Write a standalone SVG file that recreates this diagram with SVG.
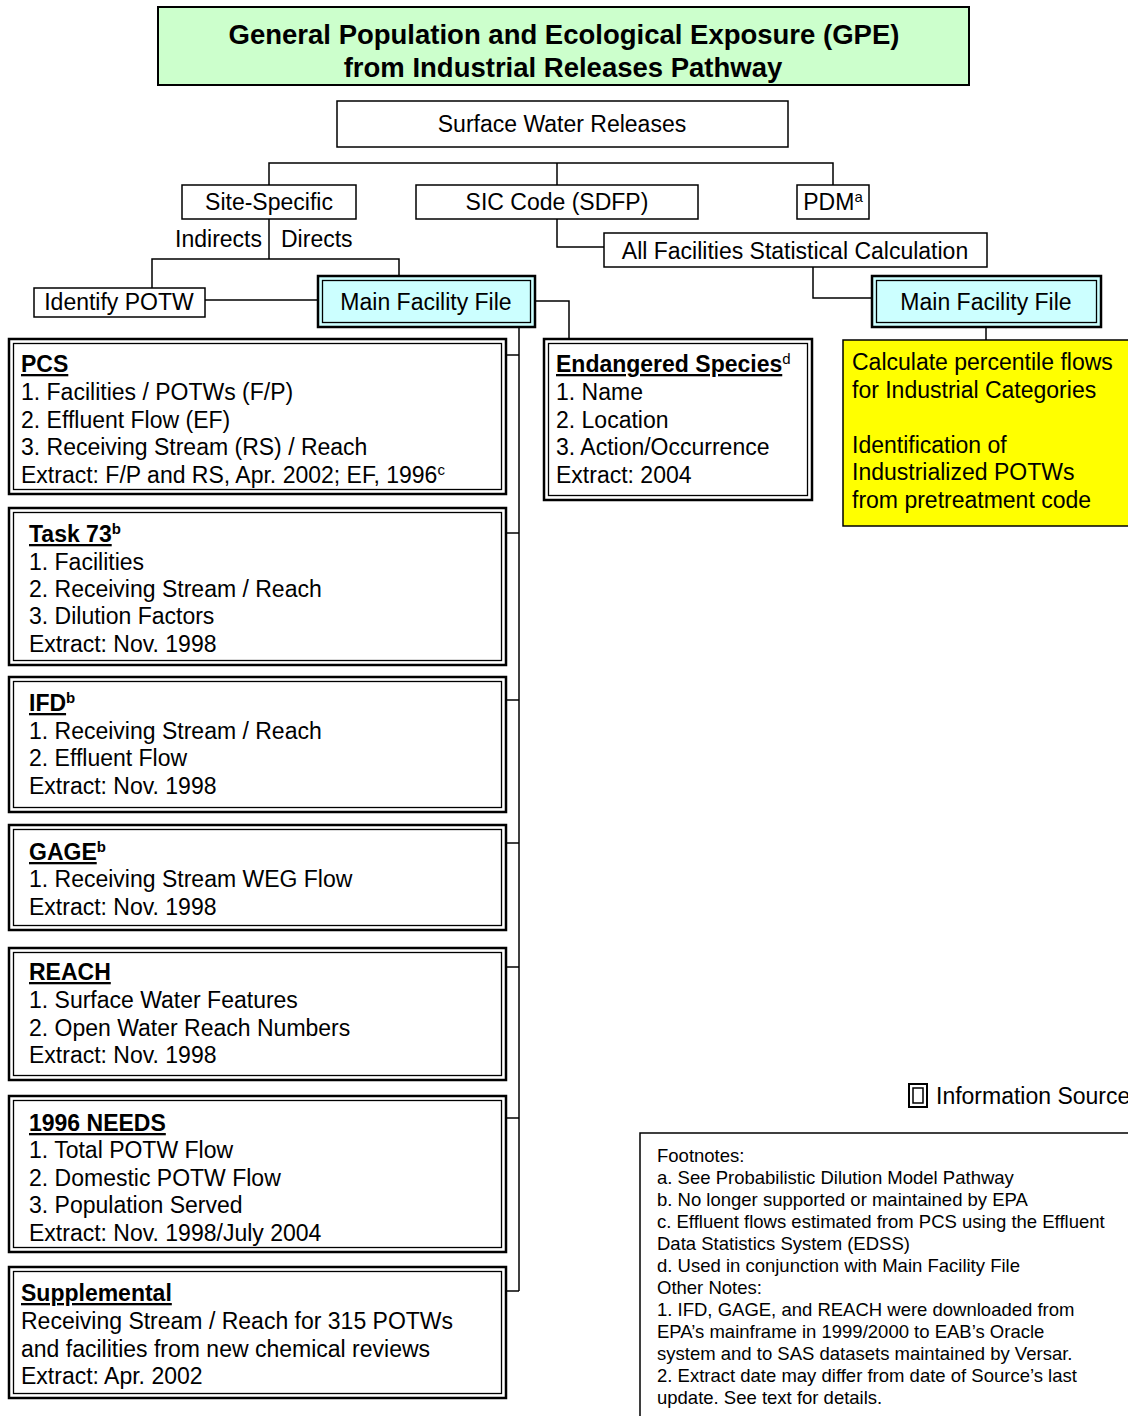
<svg xmlns="http://www.w3.org/2000/svg" width="1128" height="1416" viewBox="0 0 1128 1416">
<style>
text{font-family:"Liberation Sans",Arial,sans-serif;font-size:23px;fill:#000}
.b{font-weight:bold}
.u{text-decoration:underline}
.fn{font-size:18.5px}
.ttl{font-size:27.5px;font-weight:bold}
.c{text-anchor:middle}
.box{fill:#fff;stroke:#000;stroke-width:1.5}
.dbo{fill:#fff;stroke:#000;stroke-width:2.5}
.dbi{fill:none;stroke:#000;stroke-width:1.3}
.cyo{fill:#ccffff;stroke:#000;stroke-width:2.5}
.con{stroke:#000;stroke-width:1.5;fill:none}
.sup{font-size:15px}
</style>
<g id="title">
<rect x="158" y="7" width="811" height="78" fill="#ccffcc" stroke="#000" stroke-width="2"/>
<text class="ttl c" x="564" y="44">General Population and Ecological Exposure (GPE)</text>
<text class="ttl c" x="563" y="77">from Industrial Releases Pathway</text>
</g>
<g id="connectors">
<polyline class="con" points="269,185 269,163 833,163 833,185"/>
<line class="con" x1="557" y1="163" x2="557" y2="185"/>
<line class="con" x1="269" y1="219" x2="269" y2="259"/>
<polyline class="con" points="152,288 152,259 399,259 399,276"/>
<line class="con" x1="205" y1="300" x2="318" y2="300"/>
<polyline class="con" points="535,301 569,301 569,340"/>
<line class="con" x1="519" y1="327" x2="519" y2="1291"/>
<line class="con" x1="506" y1="355" x2="519" y2="355"/>
<line class="con" x1="506" y1="533" x2="519" y2="533"/>
<line class="con" x1="506" y1="700" x2="519" y2="700"/>
<line class="con" x1="506" y1="843" x2="519" y2="843"/>
<line class="con" x1="506" y1="967" x2="519" y2="967"/>
<line class="con" x1="506" y1="1118" x2="519" y2="1118"/>
<line class="con" x1="506" y1="1291" x2="519" y2="1291"/>
<polyline class="con" points="557,219 557,247 604,247"/>
<polyline class="con" points="813,267 813,298 872,298"/>
<line class="con" x1="986" y1="327" x2="986" y2="340"/>
</g>
<g id="surface">
<rect class="box" x="337" y="101" width="451" height="46"/>
<text class="c" x="562" y="132">Surface Water Releases</text>
</g>
<g id="site">
<rect class="box" x="182" y="185" width="174" height="34"/>
<text class="c" x="269" y="210">Site-Specific</text>
</g>
<g id="sic">
<rect class="box" x="416" y="185" width="282" height="34"/>
<text class="c" x="557" y="210">SIC Code (SDFP)</text>
</g>
<g id="pdm">
<rect class="box" x="797" y="185" width="72" height="34"/>
<text class="c" x="833" y="210">PDM<tspan class="sup" dy="-8">a</tspan></text>
</g>
<g id="labels">
<text x="262" y="247" text-anchor="end">Indirects</text>
<text x="281" y="247">Directs</text>
</g>
<g id="allfac">
<rect class="box" x="604" y="233" width="383" height="34"/>
<text class="c" x="795" y="259">All Facilities Statistical Calculation</text>
</g>
<g id="potw">
<rect class="box" x="34" y="288" width="171" height="29"/>
<text class="c" x="119" y="310">Identify POTW</text>
</g>
<g id="mff1">
<rect class="cyo" x="318" y="276" width="217" height="51"/>
<rect class="dbi" x="322.5" y="280.5" width="208" height="42"/>
<text class="c" x="426" y="310">Main Facility File</text>
</g>
<g id="mff2">
<rect class="cyo" x="872" y="276" width="229" height="51"/>
<rect class="dbi" x="876.5" y="280.5" width="220" height="42"/>
<text class="c" x="986" y="310">Main Facility File</text>
</g>
<g id="pcs">
<rect class="dbo" x="9" y="339" width="497" height="155"/>
<rect class="dbi" x="13.5" y="343.5" width="488" height="146"/>
<text x="21" y="372"><tspan class="b u">PCS</tspan></text>
<text x="21" y="400">1. Facilities / POTWs (F/P)</text>
<text x="21" y="428">2. Effluent Flow (EF)</text>
<text x="21" y="455">3. Receiving Stream (RS) / Reach</text>
<text x="21" y="483">Extract: F/P and RS, Apr. 2002; EF, 1996<tspan class="sup" dy="-8">c</tspan></text>
</g>
<g id="endangered">
<rect class="dbo" x="544" y="339" width="268" height="161"/>
<rect class="dbi" x="548.5" y="343.5" width="259" height="152"/>
<text x="556" y="372"><tspan class="b u">Endangered Species</tspan><tspan class="sup" dy="-8">d</tspan></text>
<text x="556" y="400">1. Name</text>
<text x="556" y="428">2. Location</text>
<text x="556" y="455">3. Action/Occurrence</text>
<text x="556" y="483">Extract: 2004</text>
</g>
<g id="calc">
<rect x="843" y="340" width="295" height="186" fill="#ffff00" stroke="#000" stroke-width="1.5"/>
<text x="852" y="370">Calculate percentile flows</text>
<text x="852" y="398">for Industrial Categories</text>
<text x="852" y="453">Identification of</text>
<text x="852" y="480">Industrialized POTWs</text>
<text x="852" y="508">from pretreatment code</text>
</g>
<g id="task73">
<rect class="dbo" x="9" y="508" width="497" height="157"/>
<rect class="dbi" x="13.5" y="512.5" width="488" height="148"/>
<text x="29" y="542"><tspan class="b u">Task 73</tspan><tspan class="b sup" dy="-8">b</tspan></text>
<text x="29" y="570">1. Facilities</text>
<text x="29" y="597">2. Receiving Stream / Reach</text>
<text x="29" y="624">3. Dilution Factors</text>
<text x="29" y="652">Extract: Nov. 1998</text>
</g>
<g id="ifd">
<rect class="dbo" x="9" y="677" width="497" height="135"/>
<rect class="dbi" x="13.5" y="681.5" width="488" height="126"/>
<text x="29" y="711"><tspan class="b u">IFD</tspan><tspan class="b sup" dy="-8">b</tspan></text>
<text x="29" y="739">1. Receiving Stream / Reach</text>
<text x="29" y="766">2. Effluent Flow</text>
<text x="29" y="794">Extract: Nov. 1998</text>
</g>
<g id="gage">
<rect class="dbo" x="9" y="825" width="497" height="105"/>
<rect class="dbi" x="13.5" y="829.5" width="488" height="96"/>
<text x="29" y="860"><tspan class="b u">GAGE</tspan><tspan class="b sup" dy="-8">b</tspan></text>
<text x="29" y="887">1. Receiving Stream WEG Flow</text>
<text x="29" y="915">Extract: Nov. 1998</text>
</g>
<g id="reach">
<rect class="dbo" x="9" y="948" width="497" height="132"/>
<rect class="dbi" x="13.5" y="952.5" width="488" height="123"/>
<text x="29" y="980"><tspan class="b u">REACH</tspan></text>
<text x="29" y="1008">1. Surface Water Features</text>
<text x="29" y="1036">2. Open Water Reach Numbers</text>
<text x="29" y="1063">Extract: Nov. 1998</text>
</g>
<g id="needs">
<rect class="dbo" x="9" y="1096" width="497" height="156"/>
<rect class="dbi" x="13.5" y="1100.5" width="488" height="147"/>
<text x="29" y="1131"><tspan class="b u">1996 NEEDS</tspan></text>
<text x="29" y="1158">1. Total POTW Flow</text>
<text x="29" y="1186">2. Domestic POTW Flow</text>
<text x="29" y="1213">3. Population Served</text>
<text x="29" y="1241">Extract: Nov. 1998/July 2004</text>
</g>
<g id="supplemental">
<rect class="dbo" x="9" y="1267" width="497" height="131"/>
<rect class="dbi" x="13.5" y="1271.5" width="488" height="122"/>
<text x="21" y="1301"><tspan class="b u">Supplemental</tspan></text>
<text x="21" y="1329">Receiving Stream / Reach for 315 POTWs</text>
<text x="21" y="1357">and facilities from new chemical reviews</text>
<text x="21" y="1384">Extract: Apr. 2002</text>
</g>
<g id="legend">
<rect x="909" y="1084" width="18" height="23" fill="#fff" stroke="#000" stroke-width="2"/>
<rect x="913" y="1088" width="10" height="15" fill="none" stroke="#000" stroke-width="1.5"/>
<text x="936" y="1104">Information Source</text>
</g>
<g id="footnotes">
<rect x="640" y="1133" width="500" height="300" fill="#fff" stroke="#000" stroke-width="1.5"/>
<text class="fn" x="657" y="1162">Footnotes:</text>
<text class="fn" x="657" y="1184">a. See Probabilistic Dilution Model Pathway</text>
<text class="fn" x="657" y="1206">b. No longer supported or maintained by EPA</text>
<text class="fn" x="657" y="1228">c. Effluent flows estimated from PCS using the Effluent</text>
<text class="fn" x="657" y="1250">Data Statistics System (EDSS)</text>
<text class="fn" x="657" y="1272">d. Used in conjunction with Main Facility File</text>
<text class="fn" x="657" y="1294">Other Notes:</text>
<text class="fn" x="657" y="1316">1. IFD, GAGE, and REACH were downloaded from</text>
<text class="fn" x="657" y="1338">EPA’s mainframe in 1999/2000 to EAB’s Oracle</text>
<text class="fn" x="657" y="1360">system and to SAS datasets maintained by Versar.</text>
<text class="fn" x="657" y="1382">2. Extract date may differ from date of Source’s last</text>
<text class="fn" x="657" y="1404">update. See text for details.</text>
</g>
</svg>
